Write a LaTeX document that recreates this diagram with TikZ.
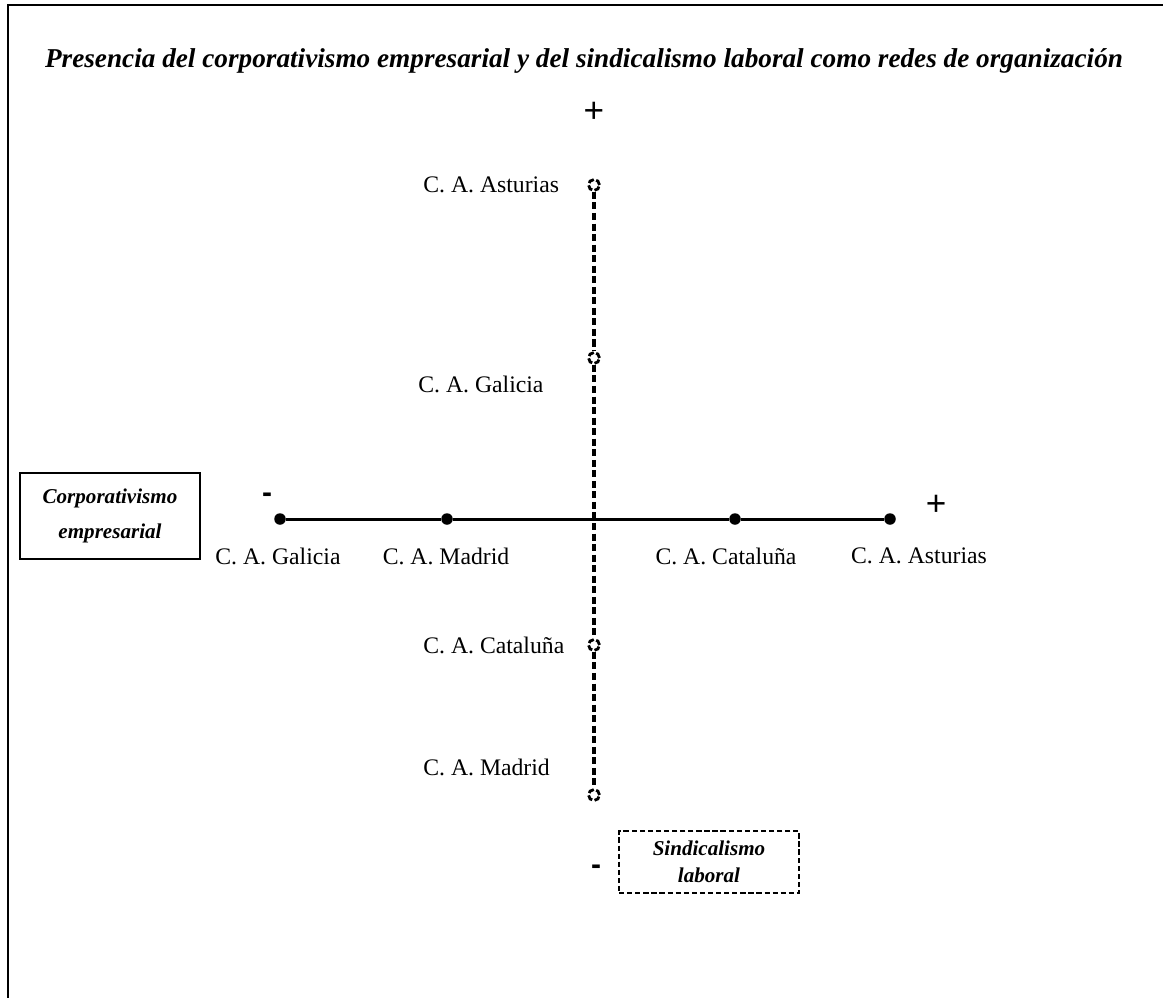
\documentclass[tikz,border=0pt]{standalone}
\usepackage{fontspec}
\setmainfont{Liberation Serif}
\setsansfont{Liberation Sans}
\usetikzlibrary{positioning}

\tikzset{
  label/.style={font=\fontsize{13.5}{15}\selectfont, inner sep=0pt},
  sign/.style={font=\sffamily\fontsize{20}{22}\selectfont, inner sep=0pt},
  minus/.style={font=\sffamily\bfseries\fontsize{17}{18}\selectfont, inner sep=0pt},
  dot/.style={circle, fill=black, inner sep=0pt, minimum size=0.23cm},
  ring/.style={circle, draw=black, line width=1.6pt, dash pattern=on 3.5pt off 1.4pt, inner sep=0pt, minimum size=0.22cm},
  axisbox/.style={draw=black, line width=1.1pt, align=center, minimum width=3.6cm},
}

\begin{document}
\begin{tikzpicture}[x=0.02cm, y=-0.02cm]
\useasboundingbox (0,0) rectangle (1163,998);

% frame (top and left only)
\draw[line width=1.7pt] (1163,5) -- (8,5) -- (8,998);

\node (title) at (584,61) {\bfseries\itshape\fontsize{15.5}{17}\selectfont Presencia del corporativismo empresarial y del sindicalismo laboral como redes de organizaci\'on};

% vertical axis
\node[sign] (vplus) at (594,112) {+};
\node[ring] (vast) at (594,185) {};
\node[ring] (vgal) at (594,358) {};
\node[ring] (vcat) at (594,645) {};
\node[ring] (vmad) at (594,795) {};
\draw[line width=2pt, dash pattern=on 4pt off 2pt] (vast) -- (vgal) -- (vcat) -- (vmad);

\node[label, anchor=west] (lvast) at (423,185) {C. A. Asturias};
\node[label, anchor=west] (lvgal) at (418,384) {C. A. Galicia};
\node[label, anchor=west] (lvcat) at (423,645) {C. A. Catalu\~na};
\node[label, anchor=west] (lvmad) at (423,767) {C. A. Madrid};

% horizontal axis
\node[dot] (hgal) at (280,519) {};
\node[dot] (hmad) at (447,519) {};
\node[dot] (hcat) at (735,519) {};
\node[dot] (hast) at (890,519) {};
\draw[line width=1.7pt] (hgal) -- (hmad) -- (hcat) -- (hast);

\node[label] (lhgal) at (278,556) {C. A. Galicia};
\node[label] (lhmad) at (446,556) {C. A. Madrid};
\node[label] (lhcat) at (726,556) {C. A. Catalu\~na};
\node[label] (lhast) at (919,556) {C. A. Asturias};

\node[minus] (hminus) at (267,498) {-};
\node[sign] (hplus) at (936,505) {+};
\node[minus] (vminus) at (596,870) {-};

% axis names
\node[axisbox, minimum height=1.72cm, font=\bfseries\itshape\fontsize{12}{20}\selectfont] (corp) at (110,516) {Corporativismo\\empresarial};
\node[axisbox, dash pattern=on 3pt off 1.6pt, line width=0.9pt, minimum height=1.24cm, font=\bfseries\itshape\fontsize{12}{15.5}\selectfont] (sind) at (709,862) {Sindicalismo\\laboral};

\end{tikzpicture}
\end{document}
